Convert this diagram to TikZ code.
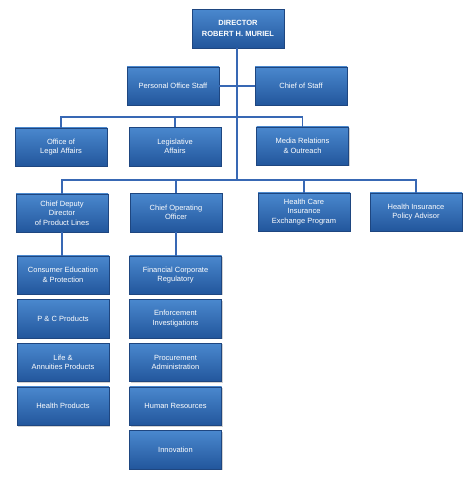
\documentclass[tikz,border=0pt]{standalone}
\usepackage{fontspec}
\setmainfont{Liberation Sans}
\usetikzlibrary{positioning,shadows}
\definecolor{boxtop}{RGB}{74,136,206}
\definecolor{boxbot}{RGB}{34,86,156}
\definecolor{boxline}{RGB}{30,70,128}
\definecolor{wire}{RGB}{56,104,180}

\begin{document}
\begin{tikzpicture}[x=1pt,y=-1pt,node distance=4.8pt,
  unit/.style={draw=boxline, thin, top color=boxtop, bottom color=boxbot,
    text=white, align=center, minimum width=92pt, minimum height=38.5pt,
    inner sep=1pt, font=\fontsize{7.5}{9.5}\selectfont,
    drop shadow={shadow xshift=1pt, shadow yshift=-1.2pt, opacity=0.35}},
  wire/.style={draw=wire, line width=1.1pt}]
  \useasboundingbox[fill=white] (0,0) rectangle (474,479);

  \node[unit, font=\bfseries\fontsize{7.5}{11}\selectfont] (dir) at (238,28.5) {DIRECTOR\\ROBERT H. MURIEL};
  \node[unit] (pos) at (173,86) {Personal Office Staff};
  \node[unit] (cos) at (301,86) {Chief of Staff};

  \node[unit] (legal) at (61,147) {Office of\\Legal Affairs};
  \node[unit] (legis) at (175,146.5) {Legislative\\Affairs};
  \node[unit] (media) at (302.5,146) {Media Relations\\\& Outreach};

  \node[unit] (cdd) at (62,213) {Chief Deputy\\Director\\of Product Lines};
  \node[unit] (coo) at (176,212.5) {Chief Operating\\Officer};
  \node[unit] (hcx) at (304,212) {Health Care\\Insurance\\Exchange Program};
  \node[unit] (hipa) at (416,212) {Health Insurance\\Policy Advisor};

  % product lines
  \node[unit] (cons) at (63,275) {Consumer Education\\\& Protection};
  \node[unit] (pc) [below=of cons] {P \& C Products};
  \node[unit] (life) [below=of pc] {Life \&\\Annuities Products};
  \node[unit] (health) [below=of life] {Health Products};

  % operations
  \node[unit] (fin) at (175.5,275) {Financial Corporate\\Regulatory};
  \node[unit] (enf) [below=of fin] {Enforcement\\Investigations};
  \node[unit] (proc) [below=of enf] {Procurement\\Administration};
  \node[unit] (hr) [below=of proc] {Human Resources};
  \node[unit] (inno) [below=of hr] {Innovation};

  \coordinate (bus1) at (237,117);
  \coordinate (bus2) at (237,180);

  \path[wire] (dir.south -| bus1) -- (bus2);
  \path[wire] (pos) -- (cos);
  \path[wire] (legal.north) |- (bus1) -| (media.north);
  \path[wire] (legis.north) -- (legis.north |- bus1);
  \path[wire] (cdd.north) |- (bus2) -| (hipa.north);
  \path[wire] (coo.north) -- (coo.north |- bus2);
  \path[wire] (hcx.north) -- (hcx.north |- bus2);
  \path[wire] (cdd.south) -- (cdd.south |- cons.north);
  \path[wire] (coo.south) -- (coo.south |- fin.north);
\end{tikzpicture}
\end{document}
